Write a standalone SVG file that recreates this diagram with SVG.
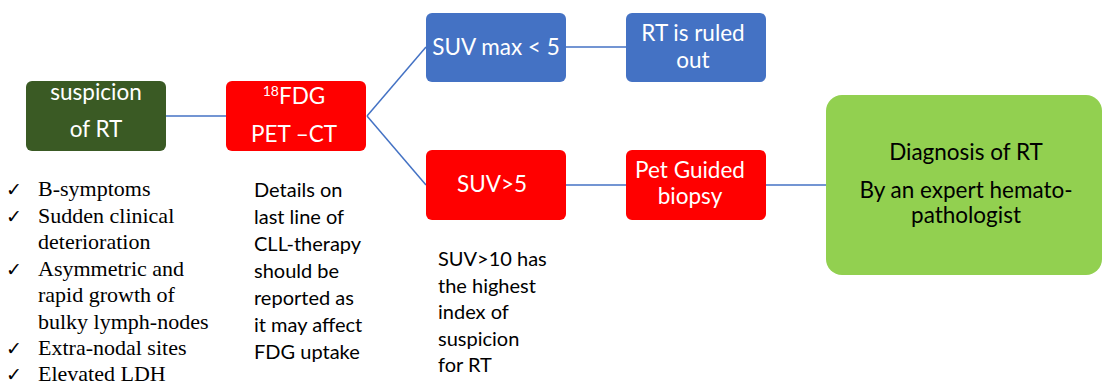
<svg xmlns="http://www.w3.org/2000/svg" width="1103" height="385" viewBox="0 0 1103 385">
<style>
.box{stroke:none}
.bt{font-family:Lato,"Open Sans","Liberation Sans",sans-serif;font-size:22.5px;fill:#ffffff;text-anchor:middle}
.dt{font-family:Lato,"Open Sans","Liberation Sans",sans-serif;font-size:22.5px;fill:#000000;text-anchor:middle}
.note{font-family:Lato,"Open Sans","Liberation Sans",sans-serif;font-size:20px;fill:#000000}
.ser{font-family:"Liberation Serif","Times New Roman",serif;font-size:22px;fill:#000000}
.chk{font-family:"DejaVu Sans",sans-serif;font-size:19px;fill:#000000}
.conn{stroke:#4472c4;stroke-width:1.5;fill:none}
</style>
<rect width="1103" height="385" fill="#ffffff"/>
<g id="connectors">
<line class="conn" x1="166" y1="116" x2="226" y2="116"/>
<line class="conn" x1="367" y1="116" x2="426" y2="47"/>
<line class="conn" x1="367" y1="116" x2="426" y2="185"/>
<line class="conn" x1="566" y1="47" x2="626" y2="47"/>
<line class="conn" x1="566" y1="185" x2="626" y2="185"/>
<line class="conn" x1="766" y1="185" x2="826" y2="185"/>
</g>
<g id="suspicion">
<rect class="box" x="26" y="81" width="140" height="70" rx="6" fill="#3a5a24"/>
<text class="bt" x="96" y="100">suspicion</text>
<text class="bt" x="96" y="137">of RT</text>
</g>
<g id="fdg">
<rect class="box" x="226" y="81" width="140" height="70" rx="6" fill="#ff0000"/>
<text class="bt" x="294" y="104"><tspan font-size="14" dy="-8">18</tspan><tspan dy="8">FDG</tspan></text>
<text class="bt" x="294" y="142">PET –CT</text>
</g>
<g id="suvlow">
<rect class="box" x="426" y="13" width="140" height="69" rx="6" fill="#4472c4"/>
<text class="bt" x="496" y="55">SUV max &lt; 5</text>
</g>
<g id="ruledout">
<rect class="box" x="626" y="13" width="140" height="69" rx="6" fill="#4472c4"/>
<text class="bt" x="693" y="41">RT is ruled</text>
<text class="bt" x="693" y="68">out</text>
</g>
<g id="suvhigh">
<rect class="box" x="426" y="150" width="140" height="70" rx="6" fill="#ff0000"/>
<text class="bt" x="492" y="192">SUV&gt;5</text>
</g>
<g id="biopsy">
<rect class="box" x="626" y="150" width="140" height="70" rx="6" fill="#ff0000"/>
<text class="bt" x="690" y="178">Pet Guided</text>
<text class="bt" x="690" y="204">biopsy</text>
</g>
<g id="diagnosis">
<rect class="box" x="826" y="95" width="276" height="180" rx="16" fill="#92d050"/>
<text class="dt" x="966" y="160">Diagnosis of RT</text>
<text class="dt" x="966" y="198">By an expert hemato-</text>
<text class="dt" x="966" y="223">pathologist</text>
</g>
<g id="criteria">
<text class="chk" x="6" y="196">✓</text>
<text class="ser" x="38" y="196">B-symptoms</text>
<text class="chk" x="6" y="223">✓</text>
<text class="ser" x="38" y="223">Sudden clinical</text>
<text class="ser" x="38" y="249">deterioration</text>
<text class="chk" x="6" y="276">✓</text>
<text class="ser" x="38" y="276">Asymmetric and</text>
<text class="ser" x="38" y="302">rapid growth of</text>
<text class="ser" x="38" y="329">bulky lymph-nodes</text>
<text class="chk" x="6" y="355">✓</text>
<text class="ser" x="38" y="355">Extra-nodal sites</text>
<text class="chk" x="6" y="381">✓</text>
<text class="ser" x="38" y="381">Elevated LDH</text>
</g>
<g id="details">
<text class="note" x="254" y="197">Details on</text>
<text class="note" x="254" y="224">last line of</text>
<text class="note" x="254" y="251">CLL-therapy</text>
<text class="note" x="254" y="278">should be</text>
<text class="note" x="254" y="305">reported as</text>
<text class="note" x="254" y="332">it may affect</text>
<text class="note" x="254" y="359">FDG uptake</text>
</g>
<g id="suvnote">
<text class="note" x="438" y="266">SUV&gt;10 has</text>
<text class="note" x="438" y="293">the highest</text>
<text class="note" x="438" y="319">index of</text>
<text class="note" x="438" y="346">suspicion</text>
<text class="note" x="438" y="372">for RT</text>
</g>
</svg>
